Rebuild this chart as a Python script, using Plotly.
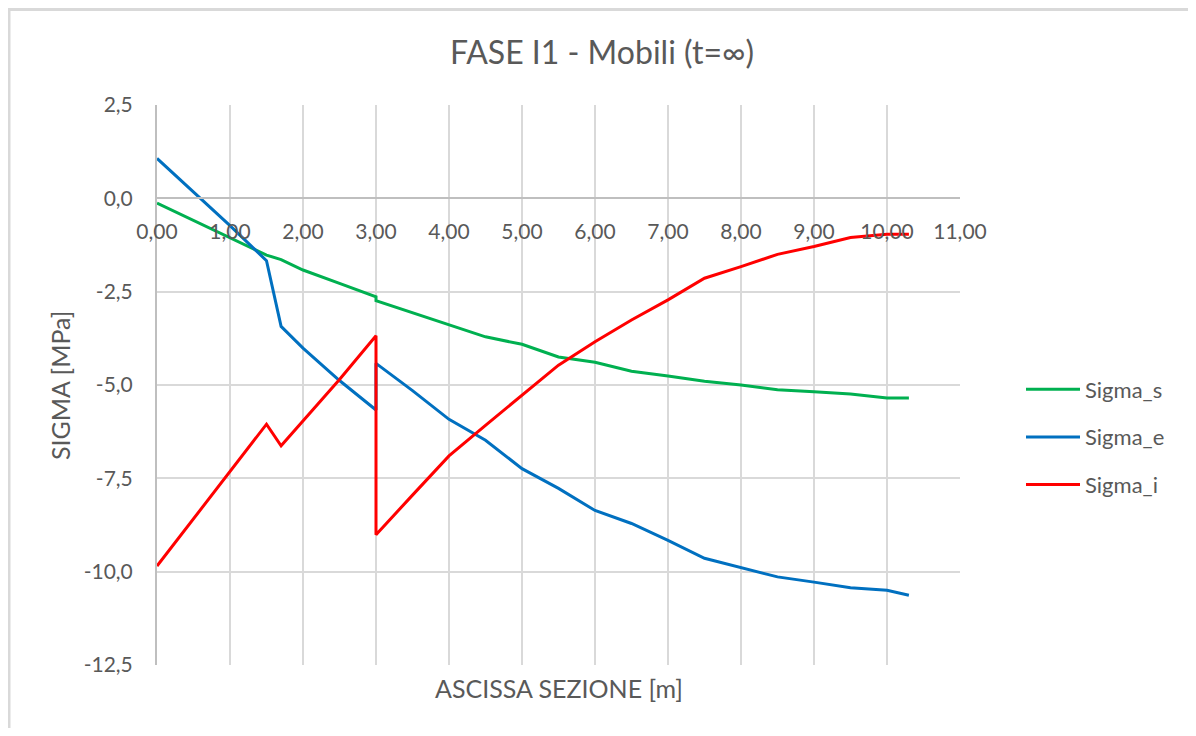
import plotly.graph_objects as go

# ---- data ----
ascissa = [0, 0.5, 1.0, 1.5, 1.7, 2.0, 2.5, 3.0, 3.0, 3.5, 4.0, 4.5, 5.0, 5.5,
           6.0, 6.5, 7.0, 7.5, 8.0, 8.5, 9.0, 9.5, 10.0, 10.3]
sigma_s = [-0.13, -0.60, -1.07, -1.52, -1.64, -1.92, -2.28, -2.64, -2.74, -3.07,
           -3.40, -3.71, -3.91, -4.25, -4.39, -4.63, -4.76, -4.90, -5.00, -5.13,
           -5.18, -5.24, -5.35, -5.35]
sigma_e = [1.07, 0.18, -0.73, -1.67, -3.43, -4.01, -4.88, -5.67, -4.42, -5.15,
           -5.92, -6.48, -7.24, -7.77, -8.36, -8.71, -9.16, -9.64, -9.88, -10.14,
           -10.28, -10.43, -10.50, -10.63]
sigma_i = [-9.85, -8.58, -7.32, -6.05, -6.63, -5.97, -4.85, -3.68, -9.01, -7.95,
           -6.90, -6.08, -5.27, -4.47, -3.84, -3.26, -2.72, -2.14, -1.83, -1.50,
           -1.29, -1.05, -0.96, -0.96]
series_names = ["Sigma_s", "Sigma_e", "Sigma_i"]
series_colors = ["#00b050", "#0070c0", "#ff0000"]
x_tickvals = [0, 1, 2, 3, 4, 5, 6, 7, 8, 9, 10, 11]
x_ticktext = ["0,00", "1,00", "2,00", "3,00", "4,00", "5,00", "6,00", "7,00",
              "8,00", "9,00", "10,00", "11,00"]
y_tickvals = [2.5, 0, -2.5, -5, -7.5, -10, -12.5]
y_ticktext = ["2,5", "0,0", "-2,5", "-5,0", "-7,5", "-10,0", "-12,5"]
x_range = [0, 11]
y_range = [-12.5, 2.5]

FONT = "Lato, 'Open Sans', sans-serif"
GREY = "#595959"

# page body has an 8px margin; figure coords = screen coords - 8
OFF = 8
W, H = 1196 - OFF, 736 - 2 * OFF
ML, MT = 157 - OFF, 105 - OFF
pw, ph = 803, 560
MR = W - ML - pw
MB = H - MT - ph


def px_x(sx):
    return (sx - OFF - ML) / pw


def px_y(sy):
    return (H - MB - (sy - OFF)) / ph


fig = go.Figure()
for name, vals, col in zip(series_names, [sigma_s, sigma_e, sigma_i], series_colors):
    fig.add_trace(go.Scatter(x=ascissa, y=vals, mode="lines", name=name,
                             legendgroup=name,
                             line=dict(color=col, width=3)))

xpos = (0 - y_range[0]) / (y_range[1] - y_range[0])

fig.update_layout(
    width=W, height=H,
    margin=dict(l=ML, r=MR, t=MT, b=MB, autoexpand=False),
    paper_bgcolor="white", plot_bgcolor="white",
    font=dict(family=FONT, color=GREY, size=21),
    title=dict(text="FASE I1 - Mobili (t=∞)", x=0.5, xref="container",
               xanchor="center", y=1 - (53 - OFF) / H, yanchor="middle",
               font=dict(size=32, color=GREY, family=FONT)),
    xaxis=dict(range=x_range, tickmode="array", tickvals=x_tickvals, ticktext=x_ticktext,
               showgrid=True, gridcolor="#d9d9d9", gridwidth=2,
               zeroline=False, showline=True, linecolor="#bfbfbf", linewidth=2,
               anchor="free", position=xpos, ticks="", ticklabelstandoff=14,
               tickfont=dict(size=21, color=GREY)),
    yaxis=dict(range=y_range, tickmode="array", tickvals=y_tickvals, ticktext=y_ticktext,
               showgrid=True, gridcolor="#d9d9d9", gridwidth=2,
               zeroline=False, showline=True, linecolor="#bfbfbf", linewidth=2,
               ticks="", ticklabelstandoff=18,
               tickfont=dict(size=21, color=GREY)),
    legend=dict(x=px_x(1021), xanchor="left",
                y=px_y(437), yanchor="middle",
                font=dict(size=22, color=GREY), tracegroupgap=16,
                itemwidth=54,
                bgcolor="rgba(0,0,0,0)"),
    showlegend=True,
)

fig.add_annotation(text="ASCISSA SEZIONE [m]", xref="paper", yref="paper",
                   x=0.5, y=px_y(688), xanchor="center", yanchor="middle",
                   showarrow=False, font=dict(size=25, color=GREY, family=FONT))
fig.add_annotation(text="SIGMA [MPa]", xref="paper", yref="paper",
                   x=px_x(60), y=px_y(386), xanchor="center", yanchor="middle",
                   textangle=-90,
                   showarrow=False, font=dict(size=25, color=GREY, family=FONT))

# outer chart frame
fig.add_shape(type="rect", xref="paper", yref="paper",
              x0=px_x(9), x1=px_x(1192),
              y0=px_y(760), y1=px_y(9.5),
              line=dict(color="#d9d9d9", width=3), fillcolor="rgba(0,0,0,0)",
              layer="below")

fig.write_html("out.html")
